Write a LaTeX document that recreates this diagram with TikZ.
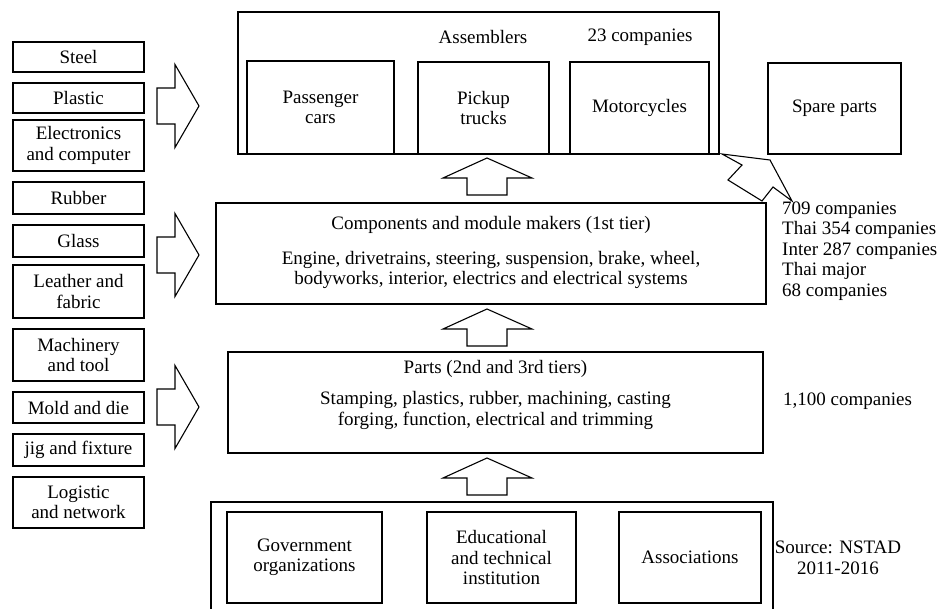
\documentclass[tikz,border=0pt]{standalone}
\usepackage{fontspec}
\setmainfont{Liberation Serif}
\newcommand{\rblock}[1]{%
  \draw[blk] (157,#1-18) -- (175,#1-18) -- (175,#1-41.5) -- (199,#1) -- (175,#1+41.5) -- (175,#1+18) -- (157,#1+18) -- cycle;}
\newcommand{\ublock}[1]{%
  \draw[blk] (467,#1+37) -- (467,#1+20) -- (443,#1+20) -- (487,#1) -- (532,#1+20) -- (507,#1+20) -- (507,#1+37) -- cycle;}
\begin{document}
\begin{tikzpicture}[x=1pt,y=-1pt,
  every node/.style={font=\fontsize{19}{20.5}\selectfont},
  box/.style={draw,line width=1.1pt,inner sep=0pt,align=center},
  txt/.style={inner sep=0pt,align=center},
  blk/.style={draw,line width=1.1pt,line join=miter,fill=white}]
\clip (0,0) rectangle (941,609);
\fill[white] (0,0) rectangle (941,609);
% left input boxes
\node[box,minimum width=131,minimum height=30] (steel) at (78.5,57) {Steel};
\node[box,minimum width=131,minimum height=30] (plastic) at (78.5,98) {Plastic};
\node[box,minimum width=131,minimum height=51] (elec) at (78.5,145.5) {Electronics\\and computer};
\node[box,minimum width=131,minimum height=32] (rubber) at (78.5,198) {Rubber};
\node[box,minimum width=131,minimum height=32] (glass) at (78.5,241) {Glass};
\node[box,minimum width=131,minimum height=53] (leather) at (78.5,291.5) {Leather and\\fabric};
\node[box,minimum width=131,minimum height=52] (mach) at (78.5,355) {Machinery\\and tool};
\node[box,minimum width=131,minimum height=31] (mold) at (78.5,407.5) {Mold and die};
\node[box,minimum width=131,minimum height=32] (jig) at (78.5,450) {jig and fixture};
\node[box,minimum width=131,minimum height=51] (logi) at (78.5,502.5) {Logistic\\and network};
% assemblers
\node[box,minimum width=481,minimum height=142] (asm) at (478.5,83) {};
\node[txt] (asmtitle) at (483,37) {Assemblers};
\node[txt] (asmcount) at (640,37) {23 companies};
\node[box,minimum width=147,minimum height=93] (cars) at (320.5,107.5) {Passenger\\cars};
\node[box,minimum width=131,minimum height=92] (pickup) at (483.5,108) {Pickup\\trucks};
\node[box,minimum width=139,minimum height=92] (moto) at (639.5,108) {Motorcycles};
\node[box,minimum width=133,minimum height=91] (spare) at (834.5,108.5) {Spare parts};
% components
\node[box,minimum width=550,minimum height=101] (comp) at (491,253.5) {};
\node[txt] (comptxt) at (491,252.5) {Components and module makers (1st tier)\\[14.5pt]Engine, drivetrains, steering, suspension, brake, wheel,\\bodyworks, interior, electrics and electrical systems};
\node[txt,anchor=west,align=left] (compcount) at (782,251) {709 companies\\Thai 354 companies\\Inter 287 companies\\Thai major\\68 companies};
% parts
\node[box,minimum width=535,minimum height=101] (parts) at (495.5,402.5) {};
\node[txt] (partstxt) at (495.5,395) {Parts (2nd and 3rd tiers)\\[10.5pt]Stamping, plastics, rubber, machining, casting\\forging, function, electrical and trimming};
\node[txt,anchor=west] (partscount) at (783,401) {1,100 companies};
% institutions
\node[box,minimum width=562,minimum height=124] (inst) at (492,564) {};
\node[box,minimum width=155,minimum height=91] (gov) at (304.5,557.5) {Government\\organizations};
\node[box,minimum width=149,minimum height=91] (edu) at (501.5,557.5) {Educational\\and technical\\institution};
\node[box,minimum width=142,minimum height=91] (assoc) at (690,557.5) {Associations};
\node[txt] (source) at (838,558) {Source: NSTAD\\2011-2016};
% block arrows
\rblock{106}
\rblock{255}
\rblock{407}
\ublock{158}
\ublock{309}
\ublock{458}
\draw[blk] (722,154) -- (770,160) -- (792,201) -- (773,187) -- (762,201) -- (728,180) -- (742,165) -- cycle;
\end{tikzpicture}
\end{document}
